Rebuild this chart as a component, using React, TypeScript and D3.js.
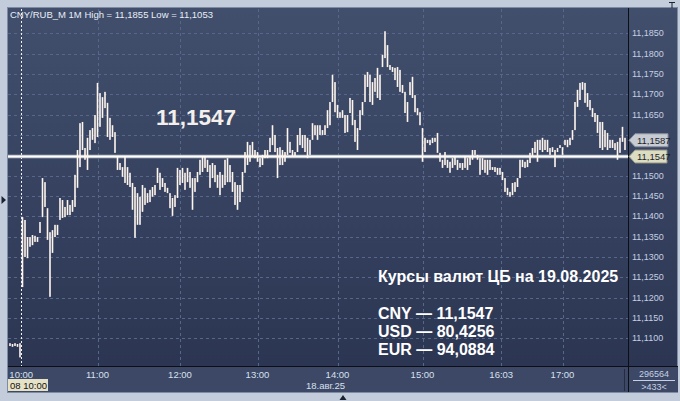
import React from 'react';
import * as d3 from 'd3';

// 1-minute bars (high / low), CNY/RUB_M, 18 Aug 2025
const highs = [
  11.1088,11.1086,11.1088,11.1086,11.1088,
  11.1398,11.1391,11.1349,11.1349,11.1354,
  11.1352,11.1349,11.1386,11.1494,11.1484,
  11.1420,11.1361,11.1366,11.1379,11.1379,
  11.1445,11.1440,11.1423,11.1440,11.1428,
  11.1440,11.1502,11.1563,11.1629,11.1632,
  11.1568,11.1593,11.1612,11.1617,11.1649,
  11.1728,11.1703,11.1693,11.1706,11.1679,
  11.1642,11.1624,11.1607,11.1546,11.1531,
  11.1521,11.1546,11.1521,11.1507,11.1482,
  11.1472,11.1457,11.1448,11.1477,11.1470,
  11.1457,11.1465,11.1472,11.1477,11.1519,
  11.1507,11.1494,11.1482,11.1470,11.1457,
  11.1445,11.1452,11.1519,11.1514,11.1519,
  11.1507,11.1519,11.1509,11.1494,11.1494,
  11.1509,11.1539,11.1546,11.1546,11.1539,
  11.1526,11.1531,11.1526,11.1502,11.1509,
  11.1502,11.1539,11.1543,11.1526,11.1509,
  11.1484,11.1477,11.1477,11.1509,11.1558,
  11.1583,11.1575,11.1583,11.1563,11.1558,
  11.1543,11.1551,11.1563,11.1563,11.1593,
  11.1624,11.1600,11.1568,11.1570,11.1563,
  11.1558,11.1617,11.1583,11.1563,11.1558,
  11.1600,11.1617,11.1600,11.1600,11.1593,
  11.1588,11.1629,11.1624,11.1624,11.1624,
  11.1612,11.1624,11.1661,11.1681,11.1748,
  11.1730,11.1674,11.1656,11.1661,11.1649,
  11.1649,11.1691,11.1686,11.1637,11.1617,
  11.1661,11.1681,11.1748,11.1755,11.1748,
  11.1730,11.1740,11.1765,11.1748,11.1797,
  11.1855,11.1821,11.1772,11.1767,11.1765,
  11.1767,11.1760,11.1723,11.1706,11.1681,
  11.1730,11.1743,11.1698,11.1666,11.1656,
  11.1617,11.1593,11.1588,11.1588,11.1593,
  11.1593,11.1605,11.1556,11.1539,11.1558,
  11.1539,11.1534,11.1543,11.1546,11.1539,
  11.1531,11.1531,11.1546,11.1543,11.1546,
  11.1563,11.1563,11.1551,11.1543,11.1543,
  11.1539,11.1539,11.1539,11.1521,11.1521,
  11.1519,11.1519,11.1509,11.1494,11.1470,
  11.1460,11.1482,11.1484,11.1494,11.1539,
  11.1539,11.1534,11.1539,11.1556,11.1568,
  11.1583,11.1588,11.1588,11.1593,11.1588,
  11.1588,11.1568,11.1570,11.1563,11.1568,
  11.1575,11.1570,11.1588,11.1588,11.1593,
  11.1612,11.1681,11.1711,11.1728,11.1730,
  11.1728,11.1703,11.1686,11.1666,11.1654,
  11.1649,11.1632,11.1632,11.1612,11.1605,
  11.1588,11.1588,11.1580,11.1583,11.1593,
  11.1620,11.1593,
];

const lows = [
  11.1081,11.1079,11.1081,11.1079,11.1053,
  11.1226,11.1300,11.1297,11.1325,11.1329,
  11.1337,11.1337,11.1359,11.1398,11.1423,
  11.1342,11.1202,11.1310,11.1349,11.1354,
  11.1391,11.1396,11.1398,11.1403,11.1403,
  11.1411,11.1423,11.1470,11.1521,11.1563,
  11.1539,11.1514,11.1563,11.1588,11.1580,
  11.1595,11.1620,11.1642,11.1666,11.1595,
  11.1588,11.1595,11.1556,11.1514,11.1514,
  11.1497,11.1482,11.1477,11.1472,11.1416,
  11.1347,11.1379,11.1379,11.1411,11.1428,
  11.1433,11.1435,11.1448,11.1452,11.1482,
  11.1465,11.1472,11.1460,11.1457,11.1420,
  11.1401,11.1423,11.1445,11.1477,11.1482,
  11.1465,11.1484,11.1470,11.1416,11.1460,
  11.1484,11.1502,11.1509,11.1519,11.1509,
  11.1470,11.1494,11.1484,11.1470,11.1452,
  11.1470,11.1477,11.1484,11.1484,11.1460,
  11.1428,11.1416,11.1435,11.1460,11.1507,
  11.1526,11.1534,11.1546,11.1543,11.1534,
  11.1521,11.1526,11.1543,11.1543,11.1558,
  11.1575,11.1558,11.1494,11.1526,11.1526,
  11.1534,11.1551,11.1556,11.1546,11.1546,
  11.1558,11.1575,11.1568,11.1558,11.1543,
  11.1551,11.1588,11.1600,11.1588,11.1600,
  11.1600,11.1600,11.1617,11.1624,11.1681,
  11.1656,11.1642,11.1642,11.1642,11.1605,
  11.1607,11.1654,11.1624,11.1583,11.1563,
  11.1612,11.1649,11.1681,11.1718,11.1681,
  11.1674,11.1706,11.1691,11.1686,11.1767,
  11.1789,11.1767,11.1760,11.1755,11.1735,
  11.1718,11.1706,11.1703,11.1654,11.1632,
  11.1698,11.1691,11.1656,11.1649,11.1624,
  11.1534,11.1558,11.1580,11.1575,11.1580,
  11.1583,11.1556,11.1534,11.1519,11.1526,
  11.1519,11.1507,11.1519,11.1526,11.1514,
  11.1519,11.1514,11.1519,11.1514,11.1526,
  11.1539,11.1551,11.1539,11.1502,11.1514,
  11.1507,11.1502,11.1514,11.1514,11.1509,
  11.1502,11.1502,11.1489,11.1460,11.1452,
  11.1448,11.1452,11.1460,11.1472,11.1494,
  11.1521,11.1519,11.1521,11.1531,11.1546,
  11.1556,11.1534,11.1563,11.1558,11.1563,
  11.1558,11.1551,11.1558,11.1521,11.1558,
  11.1568,11.1551,11.1575,11.1570,11.1575,
  11.1588,11.1612,11.1669,11.1686,11.1711,
  11.1679,11.1669,11.1661,11.1644,11.1632,
  11.1605,11.1568,11.1563,11.1570,11.1563,
  11.1568,11.1568,11.1563,11.1539,11.1556,
  11.1583,11.1563,
];

const timeLabels = ['10:00', '11:00', '12:00', '13:00', '14:00', '15:00', '16:03', '17:00'];
const timeLabelBars = [4.5, 35, 68, 99, 131, 165, 196.5, 221];
const sessionStartBar = 4.5;

const priceMin = 11.11;
const priceMax = 11.185;
const priceStep = 0.005;

const lastPrice = 11.1587;
const cbRate = 11.1547;
const sessionHigh = 11.1855;
const sessionLow = 11.1053;

const rateNames = ['CNY', 'USD', 'EUR'];
const rateValues = [11.1547, 80.4256, 94.0884];
const rateDate = '19.08.2025';

const volumeCount = '296564';
const barCount = '433';

const W = 680;
const H = 401;
const plot = { left: 8, right: 628, top: 9, bottom: 366 };
const FONT = '"Liberation Sans", Arial, sans-serif';

const fmt4 = (v: number) => d3.format('.4f')(v).replace('.', ',');

export default function App() {
  const n = Math.min(highs.length, lows.length);
  const x = d3.scaleLinear().domain([0, 246]).range([10, 625]);
  const y = d3.scaleLinear().domain([priceMin, priceMax]).range([338.3, 33.3]);
  const ticks = d3.range(0, Math.round((priceMax - priceMin) / priceStep) + 1).map((k) => priceMin + k * priceStep);
  // labels hidden behind the price markers (as on the terminal)
  const visibleTicks = ticks.filter((t) => Math.abs(y(t) - y(lastPrice)) > 12 && Math.abs(y(t) - y(cbRate)) > 12);

  const bars = d3.range(n).map((i) => {
    const yh = y(highs[i]);
    const yl = y(lows[i]);
    const h = Math.max(2, yl - yh);
    return { x: x(i) - 0.8, y: yh, h };
  });

  const marker = (v: number, fill: string, stroke: string, right: number) => {
    const cy = y(v);
    const pts = [
      [629, cy],
      [635, cy - 6.5],
      [right, cy - 6.5],
      [right, cy + 6.5],
      [635, cy + 6.5],
    ];
    return (
      <g>
        <polygon points={pts.map((p) => p.join(',')).join(' ')} fill={fill} stroke={stroke} strokeWidth={1} />
        <text x={637} y={cy} dy="0.35em" fontSize={9.5} fill="#1c1f26" fontFamily={FONT}>
          {fmt4(v)}
        </text>
      </g>
    );
  };

  return (
    <svg width={W} height={H} style={{ position: 'fixed', left: 0, top: 0, display: 'block' }}>
      <defs>
        <linearGradient id="bg" x1="0" y1="0" x2="0" y2="1">
          <stop offset="0" stopColor="#414f6d" />
          <stop offset="1" stopColor="#2a3451" />
        </linearGradient>
      </defs>
      <rect x={0} y={0} width={W} height={H} fill="#c2ccda" />
      <rect x={7.5} y={7.5} width={670} height={385} fill="url(#bg)" stroke="#7e8ba2" />

      {/* grid */}
      {ticks.map((t, k) => (
        <line key={'hg' + k} x1={plot.left} x2={plot.right} y1={Math.round(y(t)) + 0.5} y2={Math.round(y(t)) + 0.5}
          stroke="#58668a" strokeDasharray="3,3" />
      ))}
      {timeLabelBars.slice(1).map((b, k) => (
        <line key={'vg' + k} x1={Math.round(x(b)) + 0.5} x2={Math.round(x(b)) + 0.5} y1={plot.top} y2={plot.bottom}
          stroke="#58668a" strokeDasharray="3,3" />
      ))}
      <line x1={Math.round(x(sessionStartBar)) + 0.5} x2={Math.round(x(sessionStartBar)) + 0.5} y1={plot.top} y2={plot.bottom}
        stroke="#f2f2f2" strokeDasharray="2,2" />

      {/* CB rate line */}
      <line x1={plot.left} x2={plot.right} y1={y(cbRate)} y2={y(cbRate)} stroke="#bfc3c9" strokeWidth={3.5} />
      <line x1={plot.left} x2={plot.right} y1={y(cbRate)} y2={y(cbRate)} stroke="#ffffff" strokeWidth={1.4} />

      {/* bars */}
      {bars.map((b, i) => (
        <rect key={i} x={b.x} y={b.y} width={1.6} height={b.h} fill="#fff6ee" />
      ))}

      {/* title */}
      <text x={10} y={18} fontSize={9.5} fill="#e9edf5" fontFamily={FONT}>
        {`CNY/RUB_M 1M High = ${fmt4(sessionHigh)} Low = ${fmt4(sessionLow)}`}
      </text>

      {/* big value */}
      <text x={156} y={125} fontSize={22.5} fontWeight="bold" fill="#f3f0ec" fontFamily={FONT}>
        {fmt4(cbRate)}
      </text>

      {/* CB rates block */}
      <g fontFamily={FONT} fontWeight="bold" fontSize={16} fill="#ffffff">
        <text x={378} y={282}>{`Курсы валют ЦБ на ${rateDate}`}</text>
        {rateNames.map((nm, k) => (
          <text key={nm} x={378} y={318.5 + k * 18.3}>{`${nm} — ${fmt4(rateValues[k])}`}</text>
        ))}
      </g>

      {/* bottom panel */}
      <rect x={8} y={367} width={670} height={25} fill="#3c4866" />
      <line x1={8} x2={678} y1={366.5} y2={366.5} stroke="#0c0f16" />
      <line x1={628.5} x2={628.5} y1={8} y2={392} stroke="#0c0f16" />
      <line x1={624.5} x2={624.5} y1={369} y2={391} stroke="#242c3e" />

      {/* right axis labels */}
      {visibleTicks.map((t, k) => (
        <text key={'yl' + k} x={632} y={y(t)} dy="0.35em" fontSize={9} fill="#c6d0e2" fontFamily={FONT}>
          {fmt4(t)}
        </text>
      ))}
      {marker(lastPrice, '#c7cbd3', '#8a909c', 668)}
      {marker(cbRate, '#dcdcc2', '#8f9080', 667)}

      {/* time labels */}
      {timeLabels.map((lb, k) => (
        <text key={'tl' + k} x={x(timeLabelBars[k])} y={378} textAnchor="middle" fontSize={9.5} fill="#d8e0ee" fontFamily={FONT}>
          {lb}
        </text>
      ))}
      <rect x={8} y={379} width={40} height={12} fill="#e6e2c8" />
      <text x={10} y={389} fontSize={9.5} fill="#111" fontFamily={FONT}>08 10:00</text>
      <text x={345} y={389} textAnchor="end" fontSize={9.5} fill="#d8e0ee" fontFamily={FONT}>18.авг.25</text>

      <text x={654} y={377} textAnchor="middle" fontSize={9} fill="#c6d0e2" fontFamily={FONT}>{volumeCount}</text>
      <line x1={633} x2={675} y1={380.5} y2={380.5} stroke="#c6d0e2" />
      <text x={654} y={390} textAnchor="middle" fontSize={9} fill="#c6d0e2" fontFamily={FONT}>{`>${barCount}<`}</text>

      {/* frame markers */}
      <polygon points="1.5,196 6,200 1.5,204" fill="#1b2232" />
      <polygon points="339.5,400 343,395 346.5,400" fill="#1b2232" />
      <path d="M669,2.5 H675 M672,2.5 V8" stroke="#1b2232" strokeWidth={1} />
    </svg>
  );
}
